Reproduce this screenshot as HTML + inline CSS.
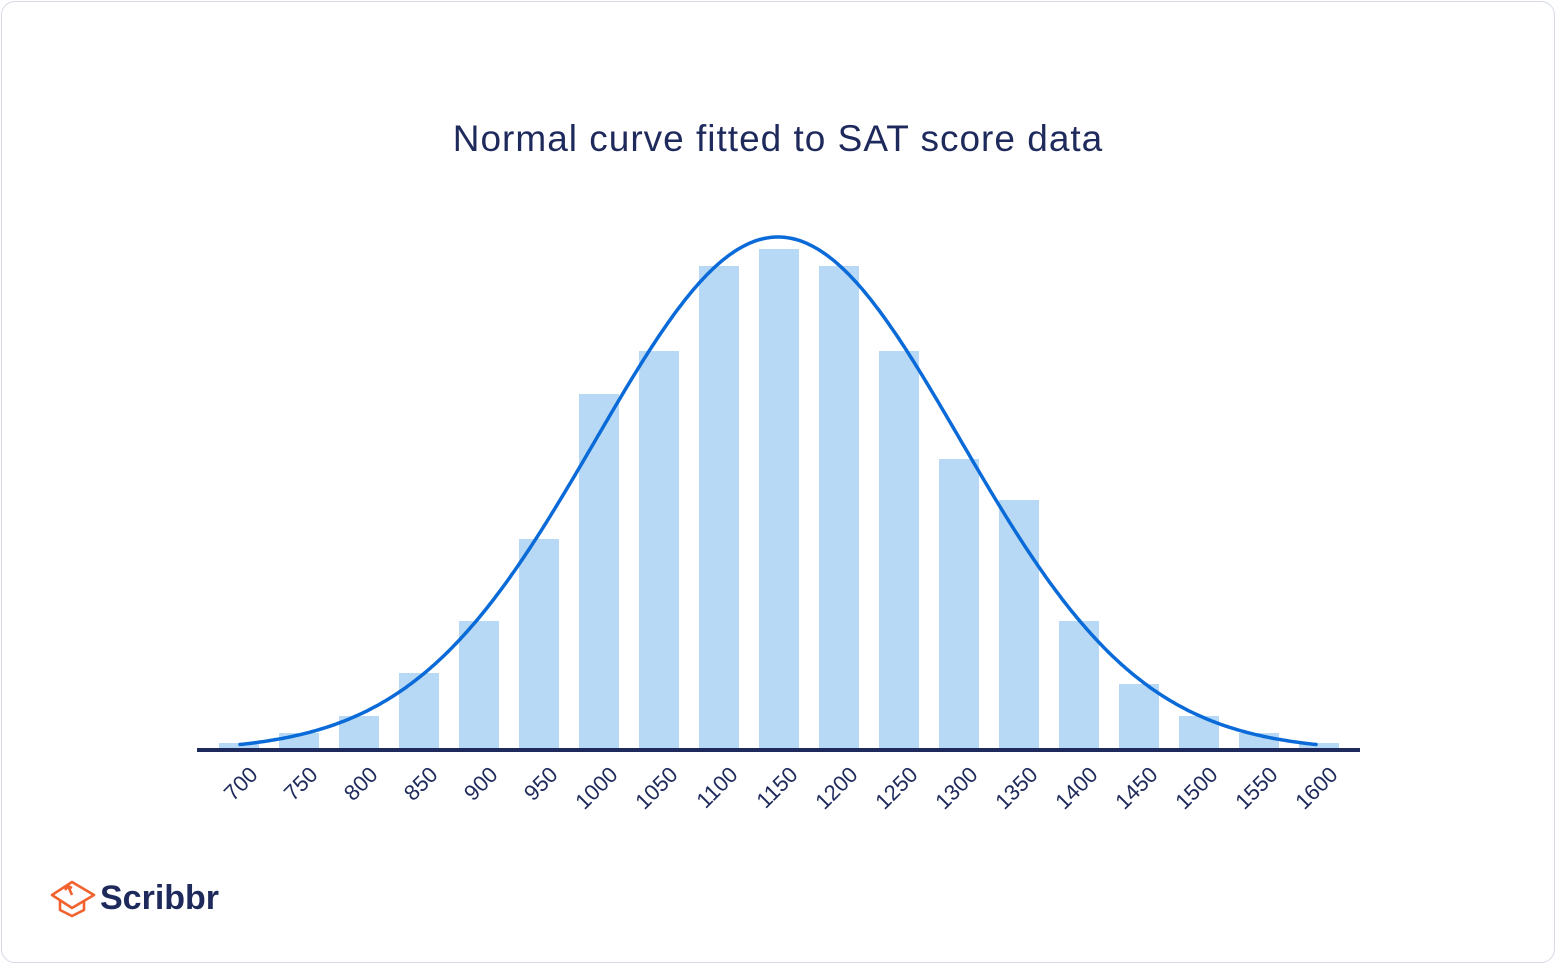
<!DOCTYPE html>
<html><head><meta charset="utf-8"><style>
html,body{margin:0;padding:0;background:#fff;}
body{width:1558px;height:966px;overflow:hidden;}
.card{position:absolute;left:1px;top:1px;width:1554px;height:962px;border:1px solid #d6dae6;border-radius:14px;box-sizing:border-box;}
</style></head><body>
<div class="card"></div>
<svg id="s" width="1558" height="966" style="position:absolute;left:0;top:0" xmlns="http://www.w3.org/2000/svg">
<text x="778" y="151" text-anchor="middle" font-family="Liberation Sans, sans-serif" font-size="37" letter-spacing="1" fill="#1f2a5c">Normal curve fitted to SAT score data</text>
<g id="bars" fill="#b8d9f5"></g>
<rect x="197" y="748" width="1163" height="4" fill="#1f2a5c"/>
<path id="curve" fill="none" stroke="#0a6bd8" stroke-width="3.5" stroke-linecap="round"/>
<g id="labels" font-family="Liberation Sans, sans-serif" font-size="22" fill="#1f2a5c"></g>
<g transform="translate(50,878)" fill="none" stroke="#f2622e" stroke-width="2.6" stroke-linejoin="round">
<path d="M2 17 L22 4 L44 17 L22 30 Z"/>
<path d="M10 22 V32 L22 38 L34 32 V22"/>
<path d="M22 17 L18 8 M18 8 l-3 4 M18 8 l4 2"/>
</g>
<text x="100" y="909" font-family="Liberation Sans, sans-serif" font-weight="bold" font-size="34" fill="#1f2a5c">Scribbr</text>
</svg>
<script>
var tops=[743,733,716,673,621,539,394,351,266,249,266,351,459,500,621,684,716,733,743];
var ns="http://www.w3.org/2000/svg",b=document.getElementById('bars'),l=document.getElementById('labels');
for(var i=0;i<19;i++){var x=219+60*i;var r=document.createElementNS(ns,'rect');r.setAttribute('x',x);r.setAttribute('y',tops[i]);r.setAttribute('width',40);r.setAttribute('height',750-tops[i]);b.appendChild(r);
var t=document.createElementNS(ns,'text');var ax=x+40,ay=776;t.setAttribute('x',ax);t.setAttribute('y',ay);t.setAttribute('text-anchor','end');t.setAttribute('transform','rotate(-45 '+ax+' '+ay+')');t.textContent=700+50*i;l.appendChild(t);}
var d='';for(var x=240;x<=1316;x+=2){var z=(x-778)/182;var y=751-514*Math.exp(-z*z/2);d+=(x==240?'M':'L')+x+' '+y.toFixed(1);}
document.getElementById('curve').setAttribute('d',d);
</script>
</body></html>
